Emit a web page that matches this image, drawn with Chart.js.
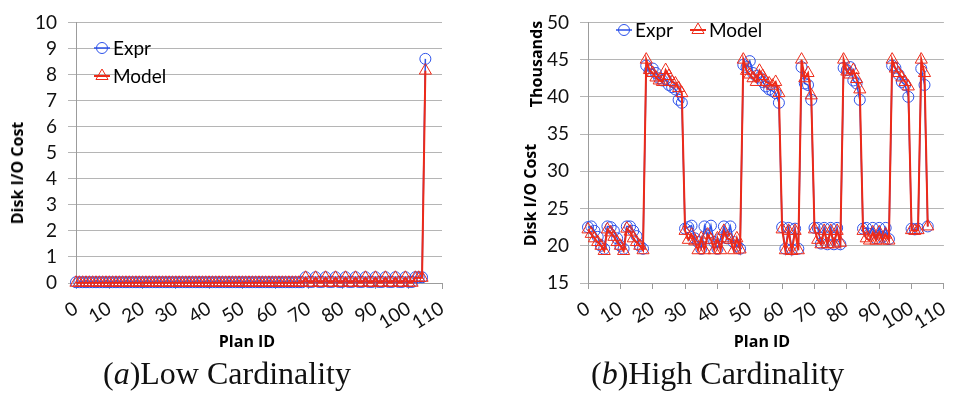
<!DOCTYPE html>
<html>
<head>
<meta charset="utf-8">
<title>Disk I/O Cost per plan</title>
<script src="https://cdn.jsdelivr.net/npm/chart.js@4.4.1/dist/chart.umd.min.js"></script>
<style>
  body { margin: 0; background: #fff; }
  #wrap { position: relative; width: 964px; height: 396px; overflow: hidden; }
  canvas { position: absolute; top: 0; }
  .axt { position: absolute; font: bold 16px "Open Sans", sans-serif; color: #000; white-space: nowrap;
         transform: translate(-50%, -50%); }
  .rot { transform: translate(-50%, -50%) rotate(-90deg); }
  .cap { position: absolute; font: 32px "Liberation Serif", serif; line-height: 32px; white-space: nowrap; color: #111; }
</style>
</head>
<body>
<div id="wrap">
  <canvas id="low" width="482" height="340" style="left:0"></canvas>
  <canvas id="high" width="482" height="340" style="left:482px"></canvas>

  <div class="axt rot" style="left:17px; top:173px">Disk I/O Cost</div>
  <div class="axt" style="left:247px; top:341px">Plan ID</div>
  <div class="axt rot" style="left:536px; top:64px">Thousands</div>
  <div class="axt rot" style="left:530px; top:195px">Disk I/O Cost</div>
  <div class="axt" style="left:762px; top:341px">Plan ID</div>

  <div class="cap" style="left:103px; top:357px">(<i>a</i>)Low Cardinality</div>
  <div class="cap" style="left:591px; top:357px">(<i>b</i>)High Cardinality</div>
</div>

<script>
// plan ids run 0..105, one value per plan
const xTicks = [0, 10, 20, 30, 40, 50, 60, 70, 80, 90, 100, 110];

// (a) low cardinality
const lowExpr = [
  0.03, 0.03, 0.03, 0.03, 0.03, 0.03, 0.03, 0.03, 0.03, 0.03,
  0.03, 0.03, 0.03, 0.03, 0.03, 0.03, 0.03, 0.03, 0.03, 0.03,
  0.03, 0.03, 0.03, 0.03, 0.03, 0.03, 0.03, 0.03, 0.03, 0.03,
  0.03, 0.03, 0.03, 0.03, 0.03, 0.03, 0.03, 0.03, 0.03, 0.03,
  0.03, 0.03, 0.03, 0.03, 0.03, 0.03, 0.03, 0.03, 0.03, 0.03,
  0.03, 0.03, 0.03, 0.03, 0.03, 0.03, 0.03, 0.03, 0.03, 0.03,
  0.03, 0.03, 0.03, 0.03, 0.03, 0.03, 0.03, 0.03, 0.03,
  0.22, 0.04, 0.04, 0.22, 0.04, 0.04, 0.22, 0.04, 0.04, 0.22, 0.04,
  0.04, 0.22, 0.04, 0.04, 0.22, 0.04, 0.04, 0.22, 0.04, 0.04, 0.22,
  0.04, 0.04, 0.22, 0.04, 0.04, 0.22, 0.04, 0.04, 0.22, 0.04, 0.04,
  0.22, 0.22, 0.22, 8.6
];
const lowModel = [
  0.01, 0.01, 0.01, 0.01, 0.01, 0.01, 0.01, 0.01, 0.01, 0.01,
  0.01, 0.01, 0.01, 0.01, 0.01, 0.01, 0.01, 0.01, 0.01, 0.01,
  0.01, 0.01, 0.01, 0.01, 0.01, 0.01, 0.01, 0.01, 0.01, 0.01,
  0.01, 0.01, 0.01, 0.01, 0.01, 0.01, 0.01, 0.01, 0.01, 0.01,
  0.01, 0.01, 0.01, 0.01, 0.01, 0.01, 0.01, 0.01, 0.01, 0.01,
  0.01, 0.01, 0.01, 0.01, 0.01, 0.01, 0.01, 0.01, 0.01, 0.01,
  0.01, 0.01, 0.01, 0.01, 0.01, 0.01, 0.01, 0.01, 0.01,
  0.2, 0.01, 0.01, 0.2, 0.01, 0.01, 0.2, 0.01, 0.01, 0.2, 0.01,
  0.01, 0.2, 0.01, 0.01, 0.2, 0.01, 0.01, 0.2, 0.01, 0.01, 0.2,
  0.01, 0.01, 0.2, 0.01, 0.01, 0.2, 0.01, 0.01, 0.2, 0.01, 0.01,
  0.2, 0.2, 0.2, 8.15
];

// (b) high cardinality, in thousands
const highExpr = [
  22.5, 22.6, 22.0, 21.2, 20.0, 19.6, 22.6, 22.5, 22.0, 21.0, 20.0, 19.6, 22.6, 22.6, 22.0, 21.3, 20.0, 19.6,
  44.2, 43.5, 43.8, 43.2, 42.5, 42.2, 42.4, 41.6, 41.3, 41.0, 39.6, 39.2,
  22.3, 22.5, 22.7, 21.0, 20.5, 19.6, 22.6, 21.0, 22.7, 20.5, 19.6, 21.0, 22.6, 21.0, 22.6, 20.5, 20.0, 19.6,
  44.3, 44.0, 44.8, 43.2, 42.8, 42.6, 42.0, 41.4, 41.0, 40.8, 40.5, 39.2,
  22.5, 19.6, 22.4, 19.5, 22.3, 19.6,
  44.0, 41.8, 41.6, 39.6,
  22.4, 22.4, 20.3, 22.4, 20.2, 22.4, 20.2, 22.4, 20.2,
  43.9, 43.6, 44.0, 42.2, 41.8, 39.6,
  22.3, 22.4, 21.6, 22.4, 21.0, 22.4, 21.2, 22.4, 20.9,
  44.2, 43.9, 43.0, 42.0, 41.6, 40.0,
  22.3, 22.2, 22.3,
  43.8, 41.6,
  22.6
];
const highModel = [
  22.2, 21.6, 21.0, 20.5, 20.0, 19.3, 22.2, 21.8, 21.2, 20.5, 20.0, 19.3, 22.3, 21.9, 21.0, 20.5, 20.0, 19.4,
  45.0, 43.6, 43.2, 42.6, 42.2, 42.0, 43.6, 42.8, 42.0, 41.8, 41.2, 40.5,
  22.0, 20.8, 21.5, 20.6, 19.4, 21.0, 19.4, 21.5, 20.8, 19.4, 21.0, 19.4, 22.0, 21.0, 20.8, 19.4, 21.0, 19.5,
  45.0, 43.5, 43.0, 42.5, 42.0, 43.5, 42.8, 42.0, 41.8, 41.5, 42.0, 40.5,
  22.2, 19.4, 22.0, 19.3, 22.0, 19.4,
  45.0, 42.5, 43.2, 40.2,
  22.2, 20.8, 20.2, 22.0, 20.2, 22.0, 20.2, 22.0, 20.4,
  45.0, 43.4, 43.0, 43.6, 42.4, 41.0,
  22.0, 21.0, 20.7, 21.8, 20.7, 21.8, 20.7, 21.5, 20.7,
  45.0, 43.8, 43.2, 42.6, 42.0, 41.4,
  22.1, 22.0, 22.1,
  45.0, 43.2,
  22.6
];

const BLUE = '#2d52ea';
const RED = '#ee2a18';
const GRID = '#b5b5b5';
const AXIS = '#9c9c9c';
const tickFont = { family: 'Lato', size: 19 };

// plan id = position in the series
const toPoints = vals => vals.map((v, i) => ({ x: i, y: v }));

// excel style legend: short line with the marker on it, drawn inside the plot
const excelLegend = {
  id: 'excelLegend',
  afterDraw(chart, args, opts) {
    const ctx = chart.ctx;
    chart.data.datasets.forEach((ds, i) => {
      const it = opts.items[i];
      ctx.save();
      ctx.strokeStyle = ds.borderColor;
      ctx.lineWidth = ds.borderWidth;
      ctx.beginPath();
      ctx.moveTo(it.x - 8, it.y);
      ctx.lineTo(it.x + 8, it.y);
      ctx.stroke();
      ctx.lineWidth = 1;
      ctx.beginPath();
      const r = ds.pointRadius;
      if (ds.pointStyle === 'triangle') {
        ctx.moveTo(it.x, it.y - r);
        ctx.lineTo(it.x + r * 0.866, it.y + r / 2);
        ctx.lineTo(it.x - r * 0.866, it.y + r / 2);
        ctx.closePath();
      } else {
        ctx.arc(it.x, it.y, r, 0, Math.PI * 2);
      }
      ctx.stroke();
      ctx.fillStyle = '#000';
      ctx.font = '19px Lato';
      ctx.textBaseline = 'middle';
      ctx.fillText(ds.label, it.x + 11, it.y + 1);
      ctx.restore();
    });
  }
};

function makeChart(id, expr, model, y, layout, legendItems) {
  return new Chart(document.getElementById(id), {
    type: 'line',
    data: {
      datasets: [
        {
          label: 'Expr', data: toPoints(expr), order: 1, clip: false,
          borderColor: BLUE, borderWidth: 1.5,
          pointStyle: 'circle', pointRadius: 5.5, pointBorderWidth: 1,
          pointBorderColor: BLUE, pointBackgroundColor: 'transparent'
        },
        {
          label: 'Model', data: toPoints(model), order: 0, clip: false,
          borderColor: RED, borderWidth: 2,
          pointStyle: 'triangle', pointRadius: 7, pointBorderWidth: 1,
          pointBorderColor: RED, pointBackgroundColor: 'transparent'
        }
      ]
    },
    options: {
      responsive: false,
      animation: false,
      events: [],
      layout: { padding: layout.padding },
      plugins: {
        legend: { display: false },
        tooltip: { enabled: false },
        excelLegend: { items: legendItems }
      },
      scales: {
        x: {
          type: 'linear', min: 0, max: 110,
          afterBuildTicks: s => { s.ticks = xTicks.map(v => ({ value: v })); },
          ticks: { font: tickFont, color: '#111', autoSkip: false, minRotation: 32, maxRotation: 32, padding: 8 },
          grid: { drawOnChartArea: false, drawTicks: true, tickLength: 6, color: AXIS },
          border: { color: AXIS },
          afterFit: s => { s.height = 340 - 283; }
        },
        y: {
          min: y.min, max: y.max,
          ticks: { stepSize: y.step, font: tickFont, color: '#111', padding: 11 },
          grid: { color: GRID, tickLength: 8 },
          border: { color: AXIS },
          afterFit: s => { s.width = layout.yWidth; }
        }
      }
    },
    plugins: [excelLegend]
  });
}

makeChart('low', lowExpr, lowModel,
  { min: 0, max: 10, step: 1 },
  { yWidth: 76, padding: { top: 17, right: 40, left: 0, bottom: 0 } },
  [{ x: 102, y: 48 }, { x: 102, y: 76 }]);

makeChart('high', highExpr, highModel,
  { min: 15, max: 50, step: 5 },
  { yWidth: 106, padding: { top: 16, right: 8, left: 0, bottom: 0 } },
  [{ x: 142, y: 30 }, { x: 216, y: 30 }]);
</script>
</body>
</html>
